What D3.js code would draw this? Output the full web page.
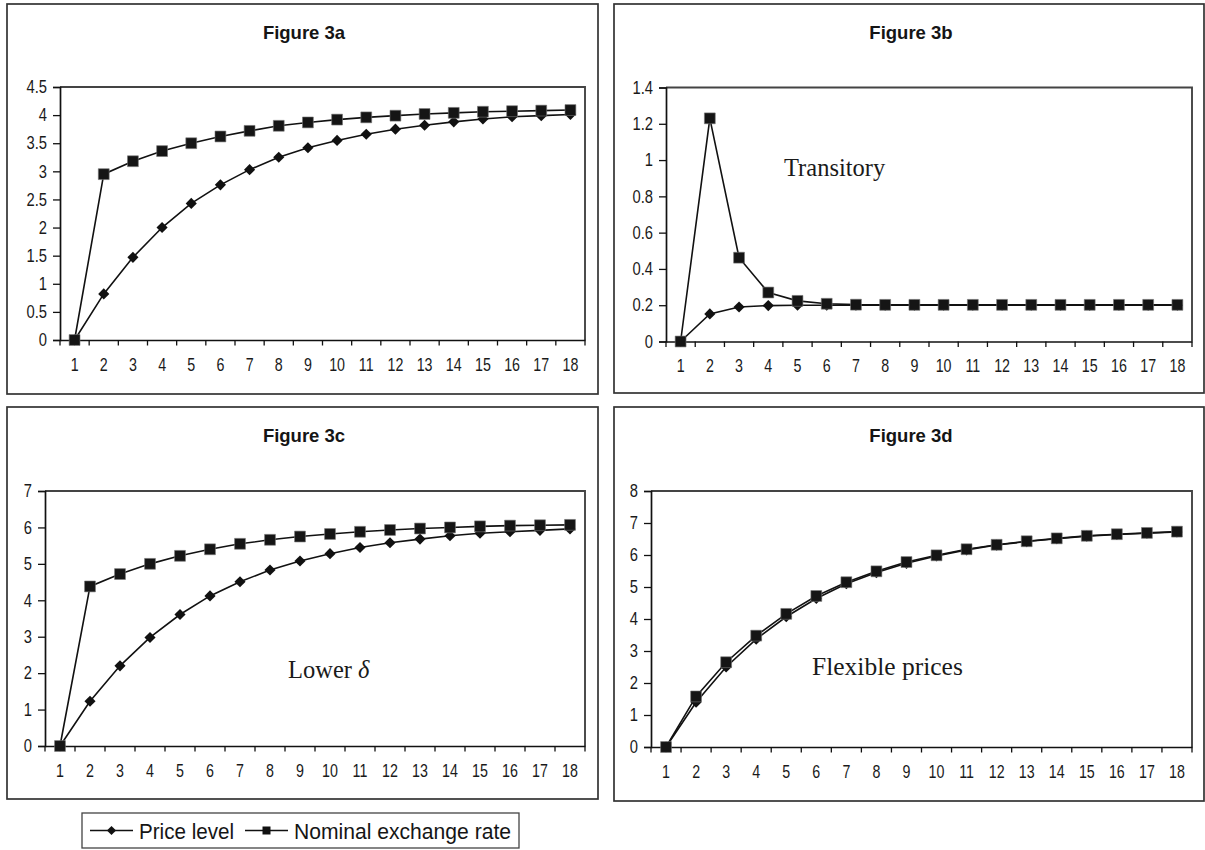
<!DOCTYPE html>
<html>
<head>
<meta charset="utf-8">
<script src="https://cdn.jsdelivr.net/npm/d3@7"></script>
<style>
  html, body { margin: 0; padding: 0; background: #fff; }
  svg { display: block; }
</style>
</head>
<body>
<svg id="chart" width="1205" height="850"></svg>
<script>
// ---------------- DATA ----------------
const categories = ["1","2","3","4","5","6","7","8","9","10","11","12","13","14","15","16","17","18"];

const priceA   = [0, 0.82, 1.47, 2.00, 2.43, 2.76, 3.03, 3.25, 3.42, 3.55, 3.66, 3.75, 3.82, 3.88, 3.93, 3.97, 3.99, 4.01];
const nominalA = [0, 2.95, 3.18, 3.36, 3.50, 3.62, 3.72, 3.81, 3.87, 3.92, 3.96, 3.99, 4.02, 4.04, 4.06, 4.07, 4.08, 4.09];

const priceB   = [0, 0.152, 0.190, 0.198, 0.200, 0.200, 0.200, 0.200, 0.200, 0.200, 0.200, 0.200, 0.200, 0.200, 0.200, 0.200, 0.200, 0.200];
const nominalB = [0, 1.23, 0.462, 0.270, 0.224, 0.208, 0.203, 0.202, 0.202, 0.202, 0.202, 0.202, 0.202, 0.202, 0.202, 0.202, 0.202, 0.202];

const priceC   = [0, 1.23, 2.20, 2.98, 3.61, 4.12, 4.51, 4.83, 5.08, 5.28, 5.45, 5.58, 5.68, 5.77, 5.84, 5.88, 5.92, 5.96];
const nominalC = [0, 4.38, 4.72, 5.00, 5.22, 5.40, 5.55, 5.66, 5.75, 5.82, 5.88, 5.93, 5.97, 6.00, 6.03, 6.05, 6.06, 6.07];

const priceD   = [0, 1.40, 2.50, 3.37, 4.07, 4.64, 5.10, 5.45, 5.74, 5.97, 6.16, 6.31, 6.42, 6.51, 6.59, 6.64, 6.68, 6.72];
const nominalD = [0, 1.58, 2.65, 3.48, 4.16, 4.72, 5.15, 5.49, 5.78, 5.99, 6.18, 6.32, 6.43, 6.52, 6.60, 6.65, 6.69, 6.73];

const ticksA = [0, 0.5, 1, 1.5, 2, 2.5, 3, 3.5, 4, 4.5];
const ticksB = [0, 0.2, 0.4, 0.6, 0.8, 1, 1.2, 1.4];
const ticksC = [0, 1, 2, 3, 4, 5, 6, 7];
const ticksD = [0, 1, 2, 3, 4, 5, 6, 7, 8];

const titles = ["Figure 3a", "Figure 3b", "Figure 3c", "Figure 3d"];
const notes  = ["", "Transitory", "Lower", "Flexible prices"];
const legendLabels = ["Price level", "Nominal exchange rate"];

// ---------------- LAYOUT ----------------
const panels = [
  { box: [7, 4, 598, 394],    plot: [60, 87, 585, 340],   titleX: 304, titleY: 39,
    price: priceA, nominal: nominalA, ticks: ticksA, title: titles[0], note: notes[0] },
  { box: [614, 4, 1204, 393], plot: [666, 87.5, 1192, 341.5], titleX: 911, titleY: 39,
    price: priceB, nominal: nominalB, ticks: ticksB, title: titles[1], note: notes[1], noteX: 784, noteY: 176, noteSize: 24.5 },
  { box: [7, 407, 598, 799],  plot: [45, 491, 585, 746],  titleX: 304, titleY: 442,
    price: priceC, nominal: nominalC, ticks: ticksC, title: titles[2], note: notes[2], noteX: 288, noteY: 678, delta: true, noteSize: 24.5 },
  { box: [614, 407, 1204, 801], plot: [651, 491, 1192, 747], titleX: 911, titleY: 442,
    price: priceD, nominal: nominalD, ticks: ticksD, title: titles[3], note: notes[3], noteX: 812, noteY: 675, noteSize: 25.5 }
];

const svg = d3.select("#chart");
const SANS = "'Liberation Sans', Arial, Helvetica, sans-serif";
const SERIF = "'Liberation Serif', 'Times New Roman', Times, serif";

function condense(sel, factor) {
  sel.each(function () {
    const w = this.getComputedTextLength();
    if (w > 0) {
      d3.select(this).attr("textLength", (w * factor).toFixed(2)).attr("lengthAdjust", "spacingAndGlyphs");
    }
  });
}

const diamondPath = d3.symbol(d3.symbolSquare, 62)();
const squarePath = d3.symbol(d3.symbolSquare, 118)();

panels.forEach(p => {
  const g = svg.append("g");
  const [bx0, by0, bx1, by1] = p.box;
  g.append("rect")
    .attr("x", bx0).attr("y", by0).attr("width", bx1 - bx0).attr("height", by1 - by0)
    .attr("fill", "#fff").attr("stroke", "#333").attr("stroke-width", 1.7);

  g.append("text")
    .attr("x", p.titleX).attr("y", p.titleY)
    .attr("text-anchor", "middle")
    .attr("font-family", SANS).attr("font-weight", "bold").attr("font-size", 18.5)
    .attr("fill", "#151515")
    .text(p.title);

  const [px0, py0, px1, py1] = p.plot;
  const x = d3.scaleBand().domain(categories).range([px0, px1]).paddingInner(0).paddingOuter(0);
  const y = d3.scaleLinear().domain([0, p.ticks[p.ticks.length - 1]]).range([py1, py0]);
  const bw = x.bandwidth();

  // plot area border (top and right)
  g.append("path")
    .attr("d", `M${px0},${py0}H${px1}V${py1}`)
    .attr("fill", "none").attr("stroke", "#444").attr("stroke-width", 1.9);

  // y axis
  const ya = g.append("g").attr("transform", `translate(${px0},0)`)
    .call(d3.axisLeft(y).tickValues(p.ticks).tickSize(7).tickPadding(6).tickFormat(d => String(d)));
  ya.select(".domain").attr("stroke", "#111").attr("stroke-width", 1.7);
  ya.selectAll(".tick line").attr("stroke", "#111").attr("stroke-width", 1.3);
  ya.selectAll(".tick text").attr("font-family", SANS).attr("font-size", 18).attr("fill", "#1a1a1a");
  condense(ya.selectAll(".tick text"), 0.82);

  // x axis labels
  const xa = g.append("g").attr("transform", `translate(0,${py1})`)
    .call(d3.axisBottom(x).tickSize(0).tickPadding(17.5));
  xa.select(".domain").attr("stroke", "#111").attr("stroke-width", 1.7);
  xa.selectAll(".tick text").attr("font-family", SANS).attr("font-size", 19).attr("fill", "#1a1a1a");
  condense(xa.selectAll(".tick text"), 0.75);

  // x tick marks at category boundaries
  const bounds = categories.map(c => x(c)).concat([x(categories[categories.length - 1]) + bw]);
  g.append("g").selectAll("line").data(bounds).join("line")
    .attr("x1", d => d).attr("x2", d => d)
    .attr("y1", py1).attr("y2", py1 + 5.5)
    .attr("stroke", "#111").attr("stroke-width", 1.3);

  const cx = (d, i) => x(categories[i]) + bw / 2;
  const line = d3.line().x(cx).y(d => y(d));

  // Price level
  g.append("path").datum(p.price).attr("d", line)
    .attr("fill", "none").attr("stroke", "#111").attr("stroke-width", 1.6);
  g.append("g").selectAll("path").data(p.price).join("path")
    .attr("d", diamondPath)
    .attr("transform", (d, i) => `translate(${cx(d, i)},${y(d)}) rotate(45)`)
    .attr("fill", "#111");

  // Nominal exchange rate
  g.append("path").datum(p.nominal).attr("d", line)
    .attr("fill", "none").attr("stroke", "#111").attr("stroke-width", 1.6);
  g.append("g").selectAll("path").data(p.nominal).join("path")
    .attr("d", squarePath)
    .attr("transform", (d, i) => `translate(${cx(d, i)},${y(d)})`)
    .attr("fill", "#151515").attr("stroke", "#777").attr("stroke-width", 0.6);

  if (p.note) {
    const nt = g.append("text")
      .attr("x", p.noteX).attr("y", p.noteY)
      .attr("font-family", SERIF).attr("font-size", p.noteSize).attr("fill", "#1a1a1a")
      .text(p.note);
    if (p.delta) {
      const w = nt.node().getComputedTextLength();
      g.append("text")
        .attr("x", p.noteX + w + 6).attr("y", p.noteY)
        .attr("font-family", SERIF).attr("font-size", p.noteSize).attr("font-style", "italic")
        .attr("fill", "#1a1a1a")
        .text("δ");
    }
  }
});

// ---------------- LEGEND ----------------
const lg = svg.append("g");
lg.append("rect").attr("x", 82).attr("y", 813).attr("width", 437).attr("height", 35)
  .attr("fill", "#fff").attr("stroke", "#444").attr("stroke-width", 1.3);
const items = [
  { label: legendLabels[0], x0: 90, x1: 133, tx: 139, sym: "diamond", w: 95 },
  { label: legendLabels[1], x0: 245, x1: 288, tx: 294, sym: "square", w: 217 }
];
items.forEach(it => {
  const ly = 830.5;
  lg.append("line").attr("x1", it.x0).attr("x2", it.x1).attr("y1", ly).attr("y2", ly)
    .attr("stroke", "#111").attr("stroke-width", 1.5);
  const mx = (it.x0 + it.x1) / 2;
  if (it.sym === "diamond") {
    lg.append("path").attr("d", d3.symbol(d3.symbolSquare, 42)())
      .attr("transform", `translate(${mx},${ly}) rotate(45)`).attr("fill", "#111");
  } else {
    lg.append("path").attr("d", d3.symbol(d3.symbolSquare, 64)())
      .attr("transform", `translate(${mx},${ly})`).attr("fill", "#111");
  }
  lg.append("text").attr("x", it.tx).attr("y", 838.5)
    .attr("font-family", SANS).attr("font-size", 22).attr("fill", "#151515")
    .attr("textLength", it.w).attr("lengthAdjust", "spacingAndGlyphs")
    .text(it.label);
});
</script>
</body>
</html>
